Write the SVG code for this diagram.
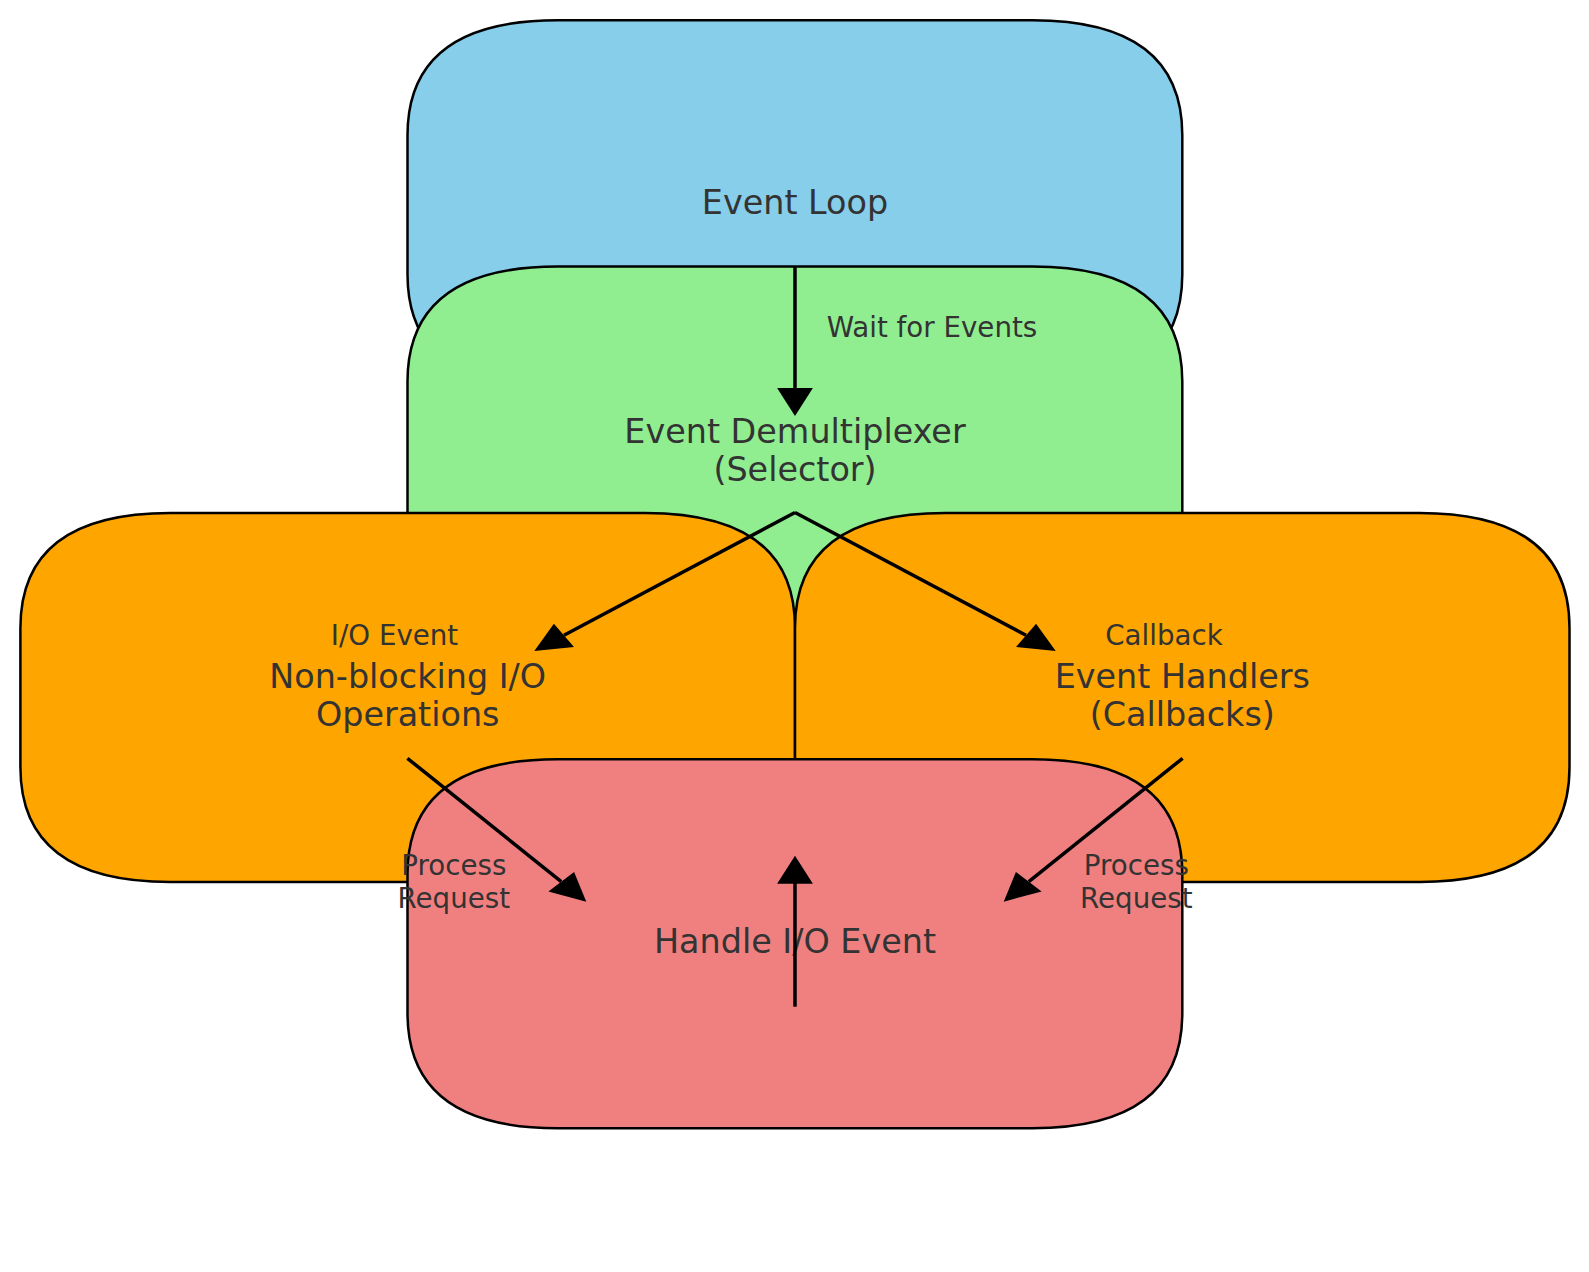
<svg xmlns="http://www.w3.org/2000/svg" width="1589" height="1272" viewBox="0 0 1589 1272">
<style>
.box{stroke:#000;stroke-width:2.5}
.t{font-family:"DejaVu Sans",sans-serif;font-size:33.4px;fill:#333333;text-anchor:middle}
.l{font-family:"DejaVu Sans",sans-serif;font-size:27.7px;fill:#333333;text-anchor:middle}
.c line{stroke:#000;stroke-width:3.5;fill:none}
.c polygon{fill:#000;stroke:none}
</style>
<rect width="1589" height="1272" fill="#ffffff"/>
<g id="event-loop">
<path class="box" fill="#87CEEB" d="M557.5,20.3 H1032.3 Q1182.3,20.3 1182.3,135.3 V274.3 Q1182.3,389.3 1032.3,389.3 H557.5 Q407.5,389.3 407.5,274.3 V135.3 Q407.5,20.3 557.5,20.3 Z"/>
<text class="t" x="795" y="214.3">Event Loop</text>
</g>
<g id="demux">
<path class="box" fill="#90EE90" d="M557.5,266.6 H1032.3 Q1182.3,266.6 1182.3,381.6 V520.6 Q1182.3,635.6 1032.3,635.6 H557.5 Q407.5,635.6 407.5,520.6 V381.6 Q407.5,266.6 557.5,266.6 Z"/>
<text class="t" x="795" y="442.6">Event Demultiplexer</text>
<text class="t" x="795" y="480.5">(Selector)</text>
</g>
<g id="nonblocking-io">
<path class="box" fill="#FFA500" d="M170.4,512.9 H645 Q795,512.9 795,627.9 V766.9 Q795,881.9 645,881.9 H170.4 Q20.4,881.9 20.4,766.9 V627.9 Q20.4,512.9 170.4,512.9 Z"/>
<text class="t" x="407.7" y="688.3">Non-blocking I/O</text>
<text class="t" x="407.7" y="726">Operations</text>
</g>
<g id="event-handlers">
<path class="box" fill="#FFA500" d="M945,512.9 H1419.5 Q1569.5,512.9 1569.5,627.9 V766.9 Q1569.5,881.9 1419.5,881.9 H945 Q795,881.9 795,766.9 V627.9 Q795,512.9 945,512.9 Z"/>
<text class="t" x="1182.3" y="688.3">Event Handlers</text>
<text class="t" x="1182.3" y="726">(Callbacks)</text>
</g>
<g id="handle-io">
<path class="box" fill="#F08080" d="M557.5,759.2 H1032.3 Q1182.3,759.2 1182.3,874.2 V1013.2 Q1182.3,1128.2 1032.3,1128.2 H557.5 Q407.5,1128.2 407.5,1013.2 V874.2 Q407.5,759.2 557.5,759.2 Z"/>
<text class="t" x="795" y="952.7">Handle I/O Event</text>
</g>
<g id="connectors" class="c">
<line x1="795" y1="266.6" x2="795" y2="390"/>
<polygon points="795,416 777.1,388 812.9,388"/>
<line x1="795" y1="512.5" x2="564" y2="635.3"/>
<polygon points="534.3,651 574,646.9 553.9,623.7"/>
<line x1="795" y1="512.5" x2="1026" y2="635.3"/>
<polygon points="1055.7,651 1016,646.9 1036.1,623.7"/>
<line x1="407.4" y1="758.3" x2="561.2" y2="881.6"/>
<polygon points="586.3,901.7 548.4,891.4 574.1,871.9"/>
<line x1="1182.6" y1="758.3" x2="1028.8" y2="881.6"/>
<polygon points="1003.7,901.7 1041.6,891.4 1015.9,871.9"/>
<line x1="795" y1="1006.7" x2="795" y2="882"/>
<polygon points="795,855.7 777.1,883.7 812.9,883.7"/>
</g>
<g id="edge-labels">
<text class="l" x="826.7" y="336.7" style="text-anchor:start">Wait for Events</text>
<text class="l" x="394.5" y="645.3">I/O Event</text>
<text class="l" x="1164" y="645.3">Callback</text>
<text class="l" x="453.8" y="875.3">Process</text>
<text class="l" x="453.8" y="907.7">Request</text>
<text class="l" x="1136.3" y="875.3">Process</text>
<text class="l" x="1136.3" y="907.7">Request</text>
</g>
</svg>
